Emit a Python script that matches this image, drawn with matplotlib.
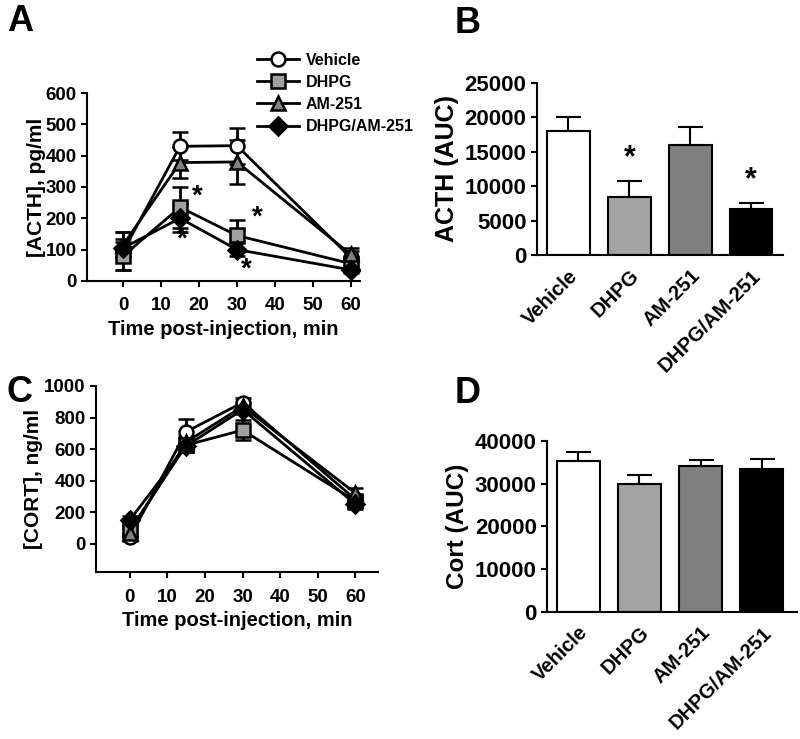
import matplotlib
matplotlib.use("Agg")
import matplotlib.pyplot as plt
from matplotlib.lines import Line2D

plt.rcParams['font.family'] = ['Liberation Sans', 'DejaVu Sans']
plt.rcParams['font.weight'] = 'bold'

# time course
times = [0, 15, 30, 60]
groups = ["Vehicle", "DHPG", "AM-251", "DHPG/AM-251"]

acth_mean = {
    "Vehicle": [95, 430, 432, 75],
    "DHPG": [80, 235, 145, 55],
    "AM-251": [115, 378, 380, 85],
    "DHPG/AM-251": [105, 200, 100, 35],
}
acth_err = {
    "Vehicle": [60, 45, 58, 20],
    "DHPG": [45, 65, 50, 15],
    "AM-251": [40, 50, 70, 20],
    "DHPG/AM-251": [30, 45, 22, 10],
}

cort_mean = {
    "Vehicle": [40, 710, 895, 280],
    "DHPG": [85, 625, 720, 270],
    "AM-251": [70, 645, 870, 320],
    "DHPG/AM-251": [150, 620, 850, 250],
}
cort_err = {
    "Vehicle": [25, 80, 30, 30],
    "DHPG": [25, 45, 65, 30],
    "AM-251": [25, 40, 30, 30],
    "DHPG/AM-251": [25, 40, 30, 30],
}

# area under curve
acth_auc = [18000, 8400, 15900, 6600]
acth_auc_err = [2000, 2300, 2700, 1000]
cort_auc = [35400, 30000, 34100, 33500]
cort_auc_err = [2100, 2100, 1500, 2200]

styles = {
    "Vehicle": dict(marker='o', mfc='white'),
    "DHPG": dict(marker='s', mfc='#a0a0a0'),
    "AM-251": dict(marker='^', mfc='#808080'),
    "DHPG/AM-251": dict(marker='D', mfc='black'),
}
bar_colors = ['white', '#a3a3a3', '#7f7f7f', 'black']

fig = plt.figure(figsize=(8, 7.39), dpi=100)


def style_axes(ax, size):
    for s in ['top', 'right']:
        ax.spines[s].set_visible(False)
    for s in ['left', 'bottom']:
        ax.spines[s].set_linewidth(1.5)
    ax.tick_params(width=1.5, length=4, labelsize=size)


def line_panel(ax, means, errs):
    for g in groups:
        st = styles[g]
        ms = 9 if st['marker'] == 'D' else 10
        ax.errorbar(times, means[g], yerr=errs[g], color='black', lw=2,
                    marker=st['marker'], mfc=st['mfc'], mec='black', mew=1.8,
                    ms=ms, capsize=6, capthick=2, elinewidth=2)
    ax.set_xticks([0, 10, 20, 30, 40, 50, 60])
    style_axes(ax, 13.5)
    ax.tick_params(axis='x', pad=8)
    ax.set_xlabel("Time post-injection, min", fontsize=14.5,
                  fontweight='bold', labelpad=4)


def bar_panel(ax, vals, errs):
    x = range(len(groups))
    ax.bar(x, vals, width=0.7, color=bar_colors, edgecolor='black', lw=1.5)
    ax.errorbar(x, vals, yerr=[[0] * len(vals), errs], fmt='none',
                ecolor='black', elinewidth=1.5, capsize=9, capthick=1.5)
    ax.set_xticks(list(x))
    style_axes(ax, 16)
    ax.set_xticklabels(groups, rotation=45, ha='right', rotation_mode='anchor',
                       fontsize=14.5)
    ax.tick_params(axis='x', length=0, pad=8)


# A
axA = fig.add_axes([0.109, 0.620, 0.341, 0.254])
line_panel(axA, acth_mean, acth_err)
axA.set_xlim(-9.5, 62.5)
axA.set_ylim(0, 600)
axA.set_yticks(range(0, 601, 100))
axA.set_ylabel("[ACTH], pg/ml", fontsize=15, fontweight='bold', labelpad=0)
for (xs, ys) in [(19.5, 268), (35.5, 201), (15.5, 131), (32.6, 35)]:
    axA.text(xs, ys, '*', fontsize=20, ha='center', va='center')
handles = [Line2D([], [], color='black', lw=2, marker=styles[g]['marker'],
                  mfc=styles[g]['mfc'], mec='black', mew=1.8,
                  ms=9 if g == "DHPG/AM-251" else 10) for g in groups]
axA.legend(handles, groups, loc='upper left', bbox_to_anchor=(0.6, 1.25),
           frameon=False, fontsize=11.5, handlelength=2.6, handletextpad=0.45,
           labelspacing=0.45, borderaxespad=0)

# B
axB = fig.add_axes([0.671, 0.655, 0.3075, 0.233])
bar_panel(axB, acth_auc, acth_auc_err)
axB.set_xlim(-0.52, 3.52)
axB.set_ylim(0, 25000)
axB.set_yticks(range(0, 25001, 5000))
axB.set_ylabel("ACTH (AUC)", fontsize=18, fontweight='bold', labelpad=4)
axB.text(1, 14100, '*', fontsize=22, ha='center', va='center')
axB.text(3, 10900, '*', fontsize=22, ha='center', va='center')

# C
axC = fig.add_axes([0.12, 0.226, 0.3525, 0.2517])
line_panel(axC, cort_mean, cort_err)
axC.set_xlim(-9, 66)
axC.set_ylim(-180, 1000)
axC.set_yticks(range(0, 1001, 200))
axC.set_ylabel("[CORT], ng/ml", fontsize=15, fontweight='bold', labelpad=1)

# D
axD = fig.add_axes([0.684, 0.172, 0.3125, 0.2314])
bar_panel(axD, cort_auc, cort_auc_err)
axD.set_xlim(-0.51, 3.58)
axD.set_ylim(0, 40000)
axD.set_yticks(range(0, 40001, 10000))
axD.set_ylabel("Cort (AUC)", fontsize=17.5, fontweight='bold', labelpad=4)

for lab, (fx, fy) in {"A": (7, 31), "B": (455, 33), "C": (6, 402),
                      "D": (455, 403)}.items():
    fig.text(fx / 800, 1 - fy / 739, lab, fontsize=26, fontweight='bold',
             ha='left', va='baseline')

fig.savefig("out.png", dpi=100)
